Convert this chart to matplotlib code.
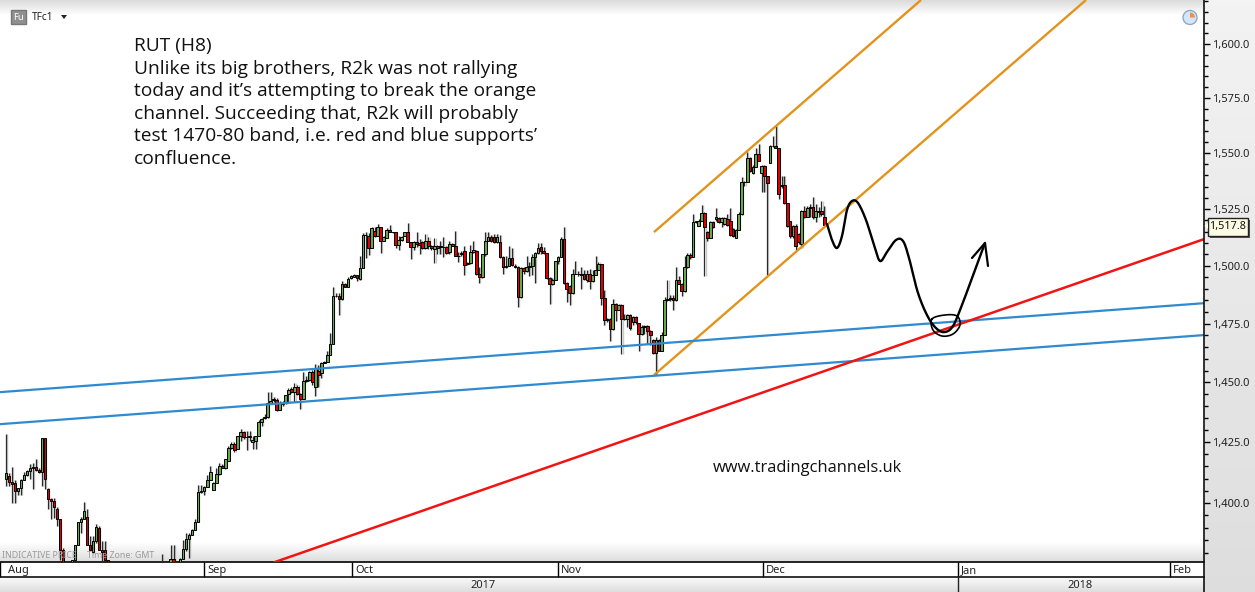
import numpy as np
import matplotlib
matplotlib.use("Agg")
import matplotlib.pyplot as plt
from matplotlib.patches import Rectangle, Circle, Wedge, Polygon
from matplotlib.ticker import FixedLocator, NullFormatter, FixedFormatter
from matplotlib.transforms import ScaledTranslation

W, H = 1255, 592
CHART_W, CHART_H = 1204, 562

opens = [
 1409.8,1410.9,1408.4,1408.2,1405.1,1406.1,1409.6,1411.6,1413,1414.4,1414.7,1413.4,1412.7,1426.9,1405.7,1401.5,1400.8,1397.7,1393.6,1381,
 1375,1372,1374,1376.9,1383.1,1392.2,1393.6,1394.5,1383.1,1380.4,1384.5,1389.8,1381,1381,1376.9,
 1374,1373,1371,1369,1368,1366,1367,1369,1368,1366,1365,1367,1368,1370,1371,1372,
 1375.2,1375.5,1375,1375.2,1377.3,1374.9,1375.2,1377.3,1381.5,1385.4,1387.1,1389.2,1392.4,1404.6,1405,1406.4,1409.5,1405.5,1408.1,1412,1415.3,1414.4,1417.2,1422.8,1424.2,1422.1,1427.4,1429.1,1427,1427,1425.1,1425.6,1427.4,1433.3,
 1435.2,1435.5,1441.2,1442.9,1442.6,1438.6,1440.9,1441.2,1445,1447.2,1445.8,1448.2,1445,1442.9,1450.6,1451,1454.6,1448.2,1454.9,1453.9,1458.4,1458.8,1461.6,1466.2,1487.1,1487.1,1485.6,1492.2,1491,1494.7,1495.1,1495.9,1494.4,1499.1,1513.4,1513,1507.9,1515.2,1513,1516.9,1510.8,1512.3,
 1515.9,1515,1514.8,1509.2,1511.5,1513.3,1514.8,1510.4,1508.2,1510.4,1510.1,1510.4,1507.7,1510.7,1508.6,1507.4,1508.9,1508.9,1508.2,1508.2,1506,1509.5,1508.6,1504.5,1505.2,1506.7,1500.8,1501.3,1506,1506.7,1496.5,1495,1505,1511,1512.8,1512.6,1510.4,1510.4,1503.8,1499.4,1499.9,1503.4,1500.1,1499.4,1486.5,
 1499,1497.6,1499.7,1500.1,1503.8,1505.5,1508.2,1506.7,1505.5,1494.7,1492.2,1494,1502,1503.8,1511.8,1492.5,1491.2,1488.4,1496.6,1496.6,1496.6,1496.6,1493.7,1496.3,1493.4,1495.8,1498.3,1500.6,1486.1,1476.4,1477.2,1472.6,1483.6,1481,1483.2,1477.2,1476.9,1478.6,1475.7,1477.9,1475.3,1470.4,1473.6,1473.9,1471.8,
 1468.1,1462.4,1467.8,1463.5,1470,1485.3,1485.8,1486.2,1485.1,1494,1492.2,1489.1,1499.4,1504.8,1503.8,1519.2,1517.7,1519.9,1523.1,1514.8,1512.3,1519.2,1520.6,1520.9,1519.2,1518.4,1520.6,1519.9,1516.2,1512.3,1515.8,1522.8,1536.9,1536.9,1547.6,1540.9,1543.9,1549.6,1540.9,1544.3,1539.9,1545.4,1553.3,1553.3,1552.2,1535.1,1535.9,1527.5,1519.6,1512.9,1517.7,1514,1509.6,1524,1521.6,1525.4,1526,1521.3,1524,1524,1521.3,
]
closes = [
 1412.3,1408.4,1407.7,1405.1,1406.1,1409.6,1411.6,1413,1414.4,1414.7,1413.4,1412.7,1426.9,1409.8,1401.5,1400.8,1398.2,1393.6,1381,1375.5,
 1372,1374,1376.9,1383.1,1392.2,1393.6,1396.6,1383.1,1381,1384.5,1390.1,1381,1380.4,1376.9,1375.5,
 1373,1371,1369,1368,1366,1367,1369,1368,1366,1365,1367,1368,1370,1371,1372,1375,
 1375.5,1375,1375.2,1377.3,1374.9,1375,1377.3,1381.5,1385.4,1387.1,1389.2,1392.4,1404.6,1405,1406.4,1409.5,1412.5,1408.1,1412,1415.3,1414.4,1417.9,1422.8,1424.2,1421.8,1427.4,1429.1,1427,1427,1427.4,1426,1427.4,1433.3,1434.7,
 1435.5,1441.2,1442.1,1442.6,1438.6,1441.2,1441.2,1444.7,1446.8,1445.8,1448.2,1445,1442.9,1450.6,1451,1454.6,1450.3,1456,1453.2,1458.4,1458.8,1461.4,1466.3,1487.1,1487.1,1485.6,1492.2,1491,1494.4,1495.4,1495.9,1494.7,1499.1,1513.4,1513.4,1507.6,1516.7,1513,1516.9,1510.8,1512.5,1515.9,
 1515,1514.8,1509.2,1511.5,1512.6,1514.8,1510.4,1508.2,1510.4,1509.6,1509.2,1507.7,1510.7,1508.6,1507.7,1508.9,1507.7,1508.2,1508.2,1505.7,1509.6,1508.9,1504.5,1504.5,1505.7,1500.4,1501.3,1506,1507.1,1496.5,1495,1505,1511,1512.8,1510.7,1510.4,1512.6,1503.8,1499.4,1499.9,1503.4,1500.4,1499.7,1486.5,1498.9,
 1497.6,1499.7,1500.1,1503.8,1505.5,1507.7,1506.7,1505.5,1494.7,1492.2,1494,1502,1503.8,1511.8,1492.5,1489.8,1488.4,1496.6,1496.6,1496.6,1495.8,1494.4,1496.3,1493.4,1495.8,1498.3,1500.6,1486.1,1476.4,1477.2,1472.6,1483.6,1481,1483.2,1477.2,1476.9,1478.6,1473.1,1477.9,1475.7,1470.4,1473.6,1473.9,1471.8,1470,
 1462.4,1467.8,1463.5,1470,1485.3,1485.8,1486.2,1485.1,1494,1492.2,1489.1,1499.4,1504.8,1503.8,1519.2,1519.6,1519.9,1523.1,1517,1512.3,1519.2,1517,1521.6,1519.2,1520.9,1520.9,1518,1513.7,1513,1515.8,1522.8,1536.9,1536.9,1547.6,1541.8,1543.9,1549.6,1546.3,1544.3,1539.9,1536.5,1553.3,1553.3,1552.2,1531.7,1535.9,1527.5,1517.7,1512.9,1517.7,1508.9,1510.4,1524,1521.3,1525.4,1526,1521.3,1524,1523.5,1522.8,1517.8,
]
highs = [
 1428.3,1412.3,1414.7,1409.6,1406.1,1409.8,1412.6,1413.7,1416.1,1416.5,1417.9,1414.4,1426.9,1426.9,1406.1,1401.9,1401.9,1398.2,1393.6,1381.7,
 1375.5,1375,1376.9,1383.1,1392.2,1394.5,1400.5,1397.7,1386.6,1386.6,1391.5,1390.8,1384.5,1384.5,1377,
 1375,1374,1372,1370,1369,1368,1370,1371,1369,1367,1368,1369,1371,1372,1373,1375,
 1379.4,1376,1376.6,1382.9,1382.9,1375.2,1378,1385,1387.8,1387.8,1389.6,1393.4,1407.4,1407.4,1406.9,1411.6,1415,1408.8,1414.4,1416.5,1415.8,1417.9,1423.5,1424.9,1424.9,1427.4,1430.5,1429.8,1429.8,1429.8,1427.7,1427.7,1434.4,1435,
 1436.9,1445.8,1445.8,1444,1443.3,1442.1,1442.1,1444.7,1447.5,1448.2,1449.6,1448.9,1445.4,1454.6,1452.5,1455,1455.3,1457.7,1457.4,1458.8,1459.1,1463.1,1470.8,1490.6,1488.1,1488.1,1493.2,1492.5,1495,1496.1,1496.4,1496.1,1504.2,1514.5,1514.8,1514.5,1517.1,1516.9,1518.4,1516.9,1513,1516.4,
 1518,1515,1515,1513,1513.3,1515,1518.8,1510.4,1510.7,1514.8,1511.8,1510.7,1514,1512.6,1509.2,1512.1,1509.2,1511.1,1512.6,1508.9,1510.7,1510.1,1515.2,1506,1506.3,1508.9,1501.6,1509.2,1510.7,1507.1,1499.4,1505.2,1514.8,1514.8,1513.6,1514,1514,1513.6,1504.2,1504.5,1508.6,1507.7,1500.8,1499.9,1499.4,
 1499.7,1504.2,1501.6,1505.2,1506,1509.9,1509.9,1508.2,1505.5,1495.1,1494.8,1502.3,1504.1,1512.6,1516.9,1493,1491.8,1498.7,1502.3,1497.7,1499.4,1498,1498,1498.7,1498,1504.1,1501.6,1500.6,1489.4,1477.6,1477.4,1485.8,1484,1483.6,1483.6,1479.3,1479,1479,1478.2,1478.2,1475.3,1474.3,1474.3,1474.3,1472.1,
 1468.5,1469.2,1468.5,1471.4,1486.5,1493.7,1487.2,1487.2,1499.4,1495.4,1492.5,1504.5,1505.6,1505.6,1522.8,1519.9,1520.6,1526.8,1523.5,1515.2,1519.5,1519.9,1525.4,1521.3,1521.3,1521.3,1522.8,1525.4,1516.7,1516.2,1523.5,1539.1,1537.4,1550.7,1548.4,1544.8,1552.2,1554.3,1544.8,1544.8,1539.9,1553.7,1557.7,1562.2,1552.5,1539.9,1539.9,1527.5,1519.9,1518,1518.4,1514.3,1524.6,1526.5,1526.5,1527.2,1530.2,1527.2,1525.7,1528.4,1526.5,
]
lows = [
 1406.8,1406.8,1400.1,1400.1,1403.3,1403.3,1409.6,1410.9,1409.8,1405.7,1413,1412.3,1406.8,1405.7,1397.5,1393.6,1394,1390.5,1376.9,1374.8,
 1370,1370,1372,1376.9,1383.1,1388,1394,1383.1,1381,1379.7,1383.8,1381,1375.5,1375.5,1374.8,
 1372,1370,1368,1366,1364,1365,1367,1366,1364,1363,1365,1366,1368,1369,1370,1372,
 1372,1372,1372,1374.9,1374.9,1374.5,1374.9,1377.3,1380.8,1378,1387.1,1392,1392.4,1403.9,1403.2,1406.4,1409.5,1405.3,1408.1,1411.6,1414.4,1414,1417.2,1422.1,1421,1422.1,1425.6,1426.3,1421.8,1425.6,1422.1,1422.3,1427.4,1431.9,
 1434.8,1435.2,1441,1441.9,1438,1438.3,1440.2,1440.9,1441.4,1445.4,1441.9,1444.7,1439,1442.9,1450.3,1450.6,1448.9,1444.3,1448.2,1451.8,1458.1,1458.5,1461.4,1466.2,1486.6,1478.9,1485.2,1491,1491,1494.4,1495,1493.2,1494,1499.1,1503.5,1504.9,1507.9,1512.5,1513,1505.7,1510.8,1512.3,
 1514.8,1514.5,1507.7,1507.1,1511.1,1513,1510.4,1503,1507.1,1508.2,1505.2,1507.4,1507.4,1507.4,1507.1,1501.3,1505.2,1505.2,1503.8,1505.2,1505.2,1508.6,1504.5,1501.6,1504.2,1496,1500.4,1500.8,1505.7,1495.8,1492.4,1494.6,1504.5,1511,1510.4,1510.1,1510.1,1503.4,1496.6,1499,1499.9,1500.1,1499,1482.1,1486.2,
 1496.6,1497.3,1495.4,1495.8,1492.5,1505.2,1505.2,1505.2,1494.4,1483.6,1491.5,1493.7,1500.6,1503.8,1492.2,1484.3,1482.9,1487.6,1496.3,1495.5,1490.1,1494,1493,1490.1,1493,1495.8,1498.3,1482.9,1474.6,1475.7,1467.5,1472.4,1476.1,1481,1462,1476.4,1473.6,1472.4,1474.6,1475,1463.5,1470,1470.7,1466.3,1465.7,
 1462.1,1453.2,1463.2,1463.2,1470,1484.8,1484.8,1480.7,1484.8,1492.2,1486.8,1488.6,1499.1,1503.1,1503.8,1519,1517.7,1519.9,1495.4,1511.1,1512,1516.7,1519.9,1518.7,1517,1518,1517.3,1513.3,1512.6,1512,1515.8,1522.5,1535.4,1536.9,1541.4,1540.6,1543.9,1546.3,1532.4,1532.4,1495.8,1545.4,1552.8,1552.2,1529.4,1534.4,1527.2,1517,1512,1512,1507,1509.6,1507.9,1521,1521.3,1521.3,1520.6,1519.2,1521.3,1522,1517.8,
]
y_major = [1400, 1425, 1450, 1475, 1500, 1525, 1550, 1575, 1600]
y_minor = list(range(1380, 1621, 5))
month_labels = ["Aug", "Sep", "Oct", "Nov", "Dec", "Jan", "Feb"]
month_pos = [0, 204, 352, 558, 763, 958, 1170]
year_labels = ["2017", "2018"]
year_pos = [483, 1080]
last_price = 1517.8

# time axis: bar number to chart column (the picture's time scale is not uniform)
scale_bars = [0, 34, 51, 83, 84, 125, 169, 215, 216, 277]
scale_cols = [6, 108, 161.7, 258.7, 261.7, 383.7, 515, 647.3, 650.3, 824.3]

# drawn trend lines: chart column, price
orange_upper = ([654, 921], [1514.8, 1620.6])
orange_lower = ([654, 1086], [1453.1, 1620.6])
blue_upper = ([0, 1204], [1445.9, 1483.8])
blue_lower = ([0, 1204], [1432.5, 1470.1])
red_line = ([275, 1204], [1376.2, 1511.7])

note_lines = ["RUT (H8)", "Unlike its big brothers, R2k was not rallying",
              "today and it\u2019s attempting to break the orange",
              "channel. Succeeding that, R2k will probably",
              "test 1470-80 band, i.e. red and blue supports\u2019",
              "confluence."]


def spline(pts, n=14, closed=False):
    p = np.array(pts, float)
    p = np.vstack([p[-1], p, p[:2]]) if closed else np.vstack([p[0], p, p[-1]])
    out = []
    for i in range(1, len(p) - 2):
        for t in np.linspace(0, 1, n, endpoint=False):
            a, b, c, d = p[i-1], p[i], p[i+1], p[i+2]
            out.append(0.5*((2*b)+(c-a)*t+(2*a-5*b+4*c-d)*t*t+(3*b-a-3*c+d)*t**3))
    out.append(p[-2])
    return np.array(out)


fig = plt.figure(figsize=(W/100, H/100), dpi=100, facecolor="#ececec")

# furniture below the chart
under = fig.add_axes([0, 0, 1, 1], zorder=-1)
under.set_axis_off()
panel = np.linspace(0.95, 0.865, H).reshape(-1, 1)
under.imshow(panel, aspect="auto", cmap="gray", vmin=0, vmax=1, extent=(0, W, H, 0))
under.set_xlim(0, W); under.set_ylim(H, 0)
strip = np.linspace(0.97, 0.87, 14).reshape(-1, 1)
under.imshow(strip, aspect="auto", cmap="gray", vmin=0, vmax=1, extent=(0, CHART_W, H, 578))
under.add_patch(Rectangle((0, 562), CHART_W, 15.5, fc="white", ec="none"))
under.set_xlim(0, W); under.set_ylim(H, 0)

bg = fig.add_axes([0, 1-CHART_H/H, CHART_W/W, CHART_H/H], zorder=0)
bg.set_axis_off()
grad = np.ones((CHART_H, 1))
grad[:16, 0] = np.linspace(0.86, 1.0, 16)
grad[-20:, 0] = np.linspace(1.0, 0.87, 20)
bg.imshow(grad, aspect="auto", cmap="gray", vmin=0, vmax=1, interpolation="bilinear")

ax = fig.add_axes([0, 1-CHART_H/H, CHART_W/W, CHART_H/H], zorder=1)
ax.patch.set_alpha(0)
ax.set_yscale("log")
ax.set_xlim(0, CHART_W)
ax.set_ylim(1376.2, 1620.6)

o, c, h, l = [np.array(a, float) for a in (opens, closes, highs, lows)]
x = np.interp(np.arange(len(o)), scale_bars, scale_cols)
ax.vlines(x+1.1, l, h, color="#c8c8c8", lw=1.0, zorder=2)
ax.vlines(x, l, h, color="#2a2a2a", lw=0.9, zorder=3)
up = c >= o
bot = np.minimum(o, c)
top = np.maximum(o, c)
ax.bar(x, top-bot, bottom=bot, width=2.7, color=np.where(up, "#67a84a", "#dc0000"),
       edgecolor="black", linewidth=0.7, zorder=4)

ax.plot(*orange_upper, color="#e2931c", lw=1.7, zorder=6, solid_capstyle="butt")
ax.plot(*orange_lower, color="#e2931c", lw=1.7, zorder=6, solid_capstyle="butt")
ax.plot(*blue_upper, color="#2f8ad0", lw=1.6, zorder=6)
ax.plot(*blue_lower, color="#2f8ad0", lw=1.6, zorder=6)
ax.plot(*red_line, color="#f01414", lw=1.8, zorder=6)

for s in ("left", "top", "right"):
    ax.spines[s].set_visible(False)
ax.spines["bottom"].set_linewidth(1.2)
ax.yaxis.tick_right()
ax.yaxis.set_major_locator(FixedLocator(y_major))
ax.yaxis.set_major_formatter(FixedFormatter([f"{v:,.1f}" for v in y_major]))
ax.yaxis.set_minor_locator(FixedLocator([v for v in y_minor if v not in y_major]))
ax.yaxis.set_minor_formatter(NullFormatter())
ax.tick_params(axis="y", which="major", length=4.5, width=1, pad=1.5, labelsize=8,
               labelcolor="#222222", labelfontfamily="Noto Sans")
ax.tick_params(axis="y", which="minor", length=3, width=1)
ax.set_xticks(month_pos)
ax.set_xticklabels(month_labels, ha="left", fontfamily="Noto Sans", fontsize=8, color="#222222")
ax.tick_params(axis="x", length=10.8, width=1, pad=-8.6)
off = ScaledTranslation(3/100, 0, fig.dpi_scale_trans)
for i, t in enumerate(ax.get_xticklabels()):
    t.set_transform(t.get_transform() + (ScaledTranslation(8/100, 0, fig.dpi_scale_trans) if i == 0 else off))

# overlay in picture pixels for the furniture and the hand sketch
ov = fig.add_axes([0, 0, 1, 1], zorder=3)
ov.set_xlim(0, W); ov.set_ylim(H, 0); ov.set_axis_off(); ov.patch.set_alpha(0)

ov.plot([0, CHART_W], [577.3, 577.3], color="#111111", lw=1.2, zorder=1)
ov.plot([CHART_W+0.3, CHART_W+0.3], [0, H], color="#111111", lw=1.2, zorder=1)
ov.plot([958, 958], [577, H], color="#222222", lw=1, zorder=1)
for lab, xp in zip(year_labels, year_pos):
    ov.text(xp, 585, lab, ha="center", va="center", fontsize=8, family="Noto Sans", color="#222222")

for i, line in enumerate(note_lines):
    ov.text(134, 46.5+i*22.4, line, ha="left", va="center", fontsize=13.75, family="Open Sans", color="#111111")
ov.text(713, 468, "www.tradingchannels.uk", ha="left", va="center", fontsize=11.9, family="Open Sans", color="#111111")

ov.text(2, 556, "INDICATIVE PRICE", ha="left", va="center", fontsize=6.3, family="Noto Sans", color="#9a9a9a")
ov.text(87, 556, "Time Zone: GMT", ha="left", va="center", fontsize=6.3, family="Noto Sans", color="#9a9a9a")

ov.add_patch(Rectangle((11, 10), 15, 14, fc="#8f8f8f", ec="#777777", lw=1))
ov.text(18.5, 17, "Fu", ha="center", va="center", fontsize=6.8, family="Noto Sans", color="white")
ov.text(32, 17, "TFc1", ha="left", va="center", fontsize=7.3, family="Noto Sans", color="#222222")
ov.add_patch(Polygon([(61, 15), (67, 15), (64, 19)], fc="#222222", ec="none"))

ov.add_patch(Circle((1190, 17.5), 7, fc="#d6e6f6", ec="#8ea9c6", lw=1))
ov.add_patch(Wedge((1190, 17.5), 5, 270, 0, fc="#e8914a", ec="none"))

# last price tag
ov.add_patch(Rectangle((1209.5, 219.5), 40, 18, fc="#555555", ec="none", zorder=4))
ov.add_patch(Rectangle((1207.5, 218), 40.5, 18, fc="#fbfbe3", ec="#222222", lw=1, zorder=5))
ov.add_patch(Polygon([(1204.5, 226), (1208, 223), (1208, 229)], fc="#fbfbe3", ec="none", zorder=6))
ov.text(1227.7, 226.8, f"{last_price:,.1f}", ha="center", va="center", fontsize=7.8, family="Noto Sans",
        color="#111111", zorder=7)

# hand-drawn path, arrow and circle
path = spline([(827, 224), (832, 240), (837, 248), (842, 236), (847, 210), (852, 201), (858, 203),
               (866, 220), (874, 245), (880, 261), (887, 252), (896, 240), (903, 241), (909, 258),
               (918, 293), (928, 317), (937, 329), (945, 332), (953, 326), (962, 305), (972, 278), (985, 243)])
ov.plot(path[:, 0], path[:, 1], color="black", lw=1.7, solid_capstyle="round", solid_joinstyle="round", zorder=8)
ov.plot([972, 985, 988], [258, 243, 266], color="black", lw=1.6, solid_capstyle="round", zorder=8)
ring = spline([(932, 319), (945, 315), (957, 316), (960, 325), (953, 334), (942, 336), (933, 330)], closed=True)
ov.plot(ring[:, 0], ring[:, 1], color="black", lw=1.2, zorder=8)

fig.savefig("out.png", dpi=100, facecolor=fig.get_facecolor())
